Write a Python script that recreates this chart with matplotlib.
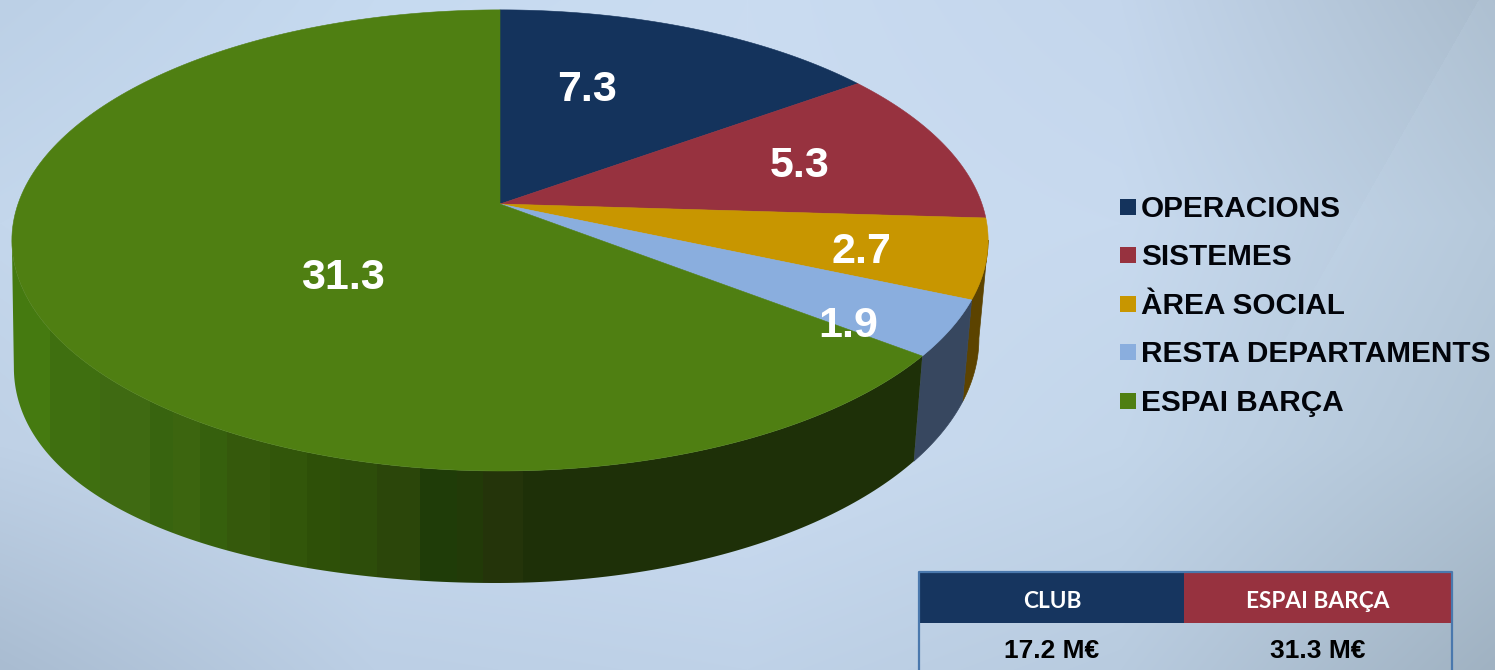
import numpy as np
import matplotlib
matplotlib.use('Agg')
import matplotlib.pyplot as plt
from matplotlib.colors import to_rgb
from matplotlib.patches import Polygon

# Data
categories = ['OPERACIONS', 'SISTEMES', 'ÀREA SOCIAL', 'RESTA DEPARTAMENTS', 'ESPAI BARÇA']
values = [7.3, 5.3, 2.7, 1.9, 31.3]
value_labels = ['7.3', '5.3', '2.7', '1.9', '31.3']
top_colors = ['#14335c', '#97323f', '#c89600', '#8aaede', '#4f7f12']
side_colors = ['#0c1f38', '#5c1e26', '#5c4300', '#37475f', '#2f5a0c']
table_headers = ['CLUB', 'ESPAI BARÇA']
table_values = ['17.2 M€', '31.3 M€']

# Label anchors in pixels
label_x = [587, 800, 861, 848, 343]
label_y = [90, 166, 252, 326, 278]

# Shading bands on the green side, left to right
band_edges = [0, 50, 100, 150, 173, 200, 227, 270, 307, 340, 377, 420, 457, 483, 523, 930]
band_colors = ['#457a10', '#3f6f10', '#3f6a12', '#38640f', '#3c650f', '#36600d', '#35590c', '#32560a',
               '#2e5008', '#2d4d0a', '#2b460a', '#1f3c08', '#223a08', '#24340a', '#1e3008']

W, H = 1495, 670
fig = plt.figure(figsize=(W / 100, H / 100), dpi=100)
ax = fig.add_axes([0, 0, 1, 1])
ax.set_xlim(0, W)
ax.set_ylim(H, 0)
ax.axis('off')

# Background: soft blue, greyer towards the corners
bg_x = np.linspace(0, 1, 5)
bg_y = np.linspace(0, 1, 4)
bg = np.array([
    ['#bcd0e6', '#c6daf0', '#cadcf1', '#c4d6ec', '#aabccd'],
    ['#c4d7ec', '#cbdef2', '#cbdcf1', '#c8daef', '#b4c7d9'],
    ['#bfd1e6', '#c8daef', '#cbdcf1', '#c3d6ea', '#b0c3d4'],
    ['#a9bcd1', '#bccfe5', '#bfd2e8', '#b8cbdf', '#a0b2c2'],
])
bg_rgb = np.array([[to_rgb(c) for c in row] for row in bg])
xx = np.linspace(0, 1, W)
yy = np.linspace(0, 1, H)
img = np.zeros((H, W, 3))
for k in range(3):
    rows = np.array([np.interp(xx, bg_x, bg_rgb[j, :, k]) for j in range(4)])
    img[:, :, k] = np.array([np.interp(yy, bg_y, rows[:, i]) for i in range(W)]).T
# faint diagonal streak on the right, fading out downwards
px, py = np.meshgrid(np.arange(W), np.arange(H))
streak = (px > 1478 - 0.57 * py) * np.clip(1 - py / 480, 0, 1)
img = np.clip(img + 0.015 * streak[:, :, None], 0, 1)
ax.imshow(img, extent=(0, W, H, 0), aspect='auto', zorder=0)


# Perspective projection of the unit disc onto the picture
def top_rim(theta):
    u, v = np.sin(theta), np.cos(theta)
    d = 1 + 0.158 * v
    return 500 + 482 * u / d, 204 - 224.8 * v / d


def bottom_rim(theta):
    x, y = top_rim(theta)
    # the extrusion gets a bit deeper towards the left
    deeper = 28 * (np.clip(500 - x, 0, None) / 480) ** 2
    return 14 + 0.9885 * (x - 12), 300 + 1.06 * (y - 204) + deeper


edges = np.cumsum([0] + values) / sum(values) * 2 * np.pi

# Where the rims turn: the side is only visible between these angles
scan = np.radians(np.linspace(60, 300, 961))
right_top = scan[np.argmax(top_rim(scan)[0])]
left_top = scan[np.argmin(top_rim(scan)[0])]
right_bot = scan[np.argmax(bottom_rim(scan)[0])]
left_bot = scan[np.argmin(bottom_rim(scan)[0])]


def side_poly(a0, a1, b0=None, b1=None):
    b0 = a0 if b0 is None else b0
    b1 = a1 if b1 is None else b1
    xt, yt = top_rim(np.linspace(a0, a1, 160))
    xb, yb = bottom_rim(np.linspace(b1, b0, 160))
    return np.c_[np.r_[xt, xb], np.r_[yt, yb]]


# Sides: flat for the small wedges, banded for the big green one
ax.fill(*side_poly(right_top, edges[3], right_bot, edges[3]).T, color=side_colors[2], lw=0.5, zorder=2)
ax.fill(*side_poly(edges[3], edges[4]).T, color=side_colors[3], lw=0.5, zorder=2)

green = Polygon(side_poly(edges[4], left_top, edges[4], left_bot), closed=True, fc='none', ec='none',
                transform=ax.transData)
ax.add_patch(green)
band_rgb = np.array([to_rgb(c) for c in band_colors])
band_idx = np.clip(np.searchsorted(band_edges, np.arange(W), side='right') - 1, 0, len(band_colors) - 1)
band_img = band_rgb[band_idx][None, :, :]
im = ax.imshow(band_img, extent=(0, W, H, 0), aspect='auto', zorder=2, interpolation='nearest')
im.set_clip_path(green)

# Top face
for i in range(len(values)):
    th = np.linspace(edges[i], edges[i + 1], 200)
    x, y = top_rim(th)
    ax.fill(np.r_[500, x], np.r_[204, y], color=top_colors[i], lw=0.4, zorder=3)

for lx, ly, s in zip(label_x, label_y, value_labels):
    ax.text(lx, ly, s, color='white', fontsize=31, fontweight='bold', family='Liberation Sans',
            ha='center', va='center', zorder=5)

# Legend
legend_y = [207, 255, 304, 352, 401]
for name, c, ly in zip(categories, top_colors, legend_y):
    ax.fill([1120, 1136, 1136, 1120], [ly - 8, ly - 8, ly + 8, ly + 8], color=c, lw=0, zorder=4)
    ax.text(1141, ly + 2, name, color='#02040a', fontsize=21.45, fontweight='bold',
            family='Liberation Sans', ha='left', va='center', zorder=5)

# Small table, cut by the bottom of the picture
ax.fill([920, 1184, 1184, 920], [573, 573, 623, 623], color='#16355f', lw=0, zorder=4)
ax.fill([1184, 1451, 1451, 1184], [573, 573, 623, 623], color='#97323f', lw=0, zorder=4)
ax.plot([919, 919, 1452, 1452], [H, 572, 572, H], color='#4a78ad', lw=1.6, zorder=5)
for cx, head, val in zip([1052, 1318], table_headers, table_values):
    ax.text(cx, 602, head, color='white', fontsize=16.3, fontweight='bold', family='Lato',
            ha='center', va='center', zorder=6)
    ax.text(cx, 651, val, color='black', fontsize=19, fontweight='bold',
            family='Liberation Sans', ha='center', va='center', zorder=6)

fig.savefig('out.png', dpi=100)
